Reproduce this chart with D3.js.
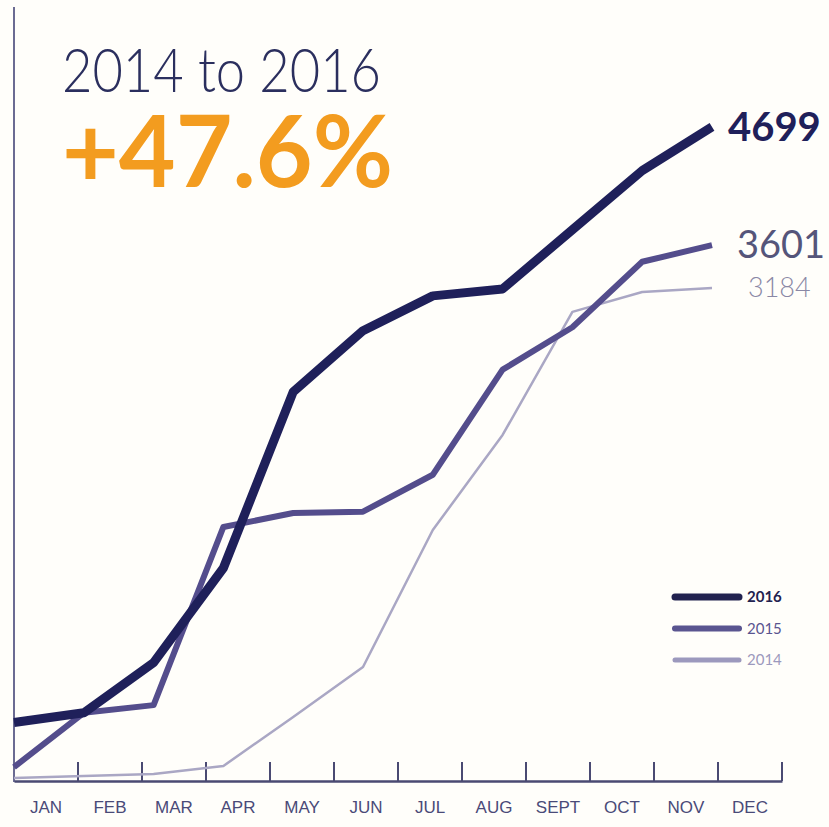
<!DOCTYPE html>
<html>
<head>
<meta charset="utf-8">
<script src="https://cdn.jsdelivr.net/npm/d3@7"></script>
<style>
  body { margin: 0; background: #fffefa; }
  svg { display: block; font-family: Lato, "Open Sans", sans-serif; }
</style>
</head>
<body>
<div id="chart"></div>
<script>
const months = ['JAN', 'FEB', 'MAR', 'APR', 'MAY', 'JUN', 'JUL', 'AUG', 'SEPT', 'OCT', 'NOV', 'DEC'];
const years = ['2016', '2015', '2014'];
// cumulative totals, Jan..Nov
const values2016 = [420, 490, 850, 1530, 2795, 3235, 3485, 3535, 3960, 4385, 4699];
const values2015 = [100, 490, 545, 1825, 1925, 1935, 2200, 2955, 3260, 3730, 3850];
const values2014 = [22, 36, 50, 108, 460, 819, 1803, 2486, 3370, 3513, 3542];
const endLabels = ['4699', '3601', '3184'];
const titleText = '2014 to 2016';
const changeText = '+47.6%';

const width = 829;
const height = 827;

const svg = d3.select('#chart')
  .append('svg')
  .attr('width', width)
  .attr('height', height);

svg.append('rect').attr('width', width).attr('height', height).attr('fill', '#fffefa');

const x = d3.scaleBand().domain(months).range([14, 782]);
const xLine = d3.scalePoint().domain(months.slice(0, 11)).range([14, 712]);
const y = d3.scaleLinear().domain([0, 5000]).range([781, 85]);

const styles = {
  '2016': { color: '#1f205a', width: 9, legendWidth: 7, labelColor: '#1f205a', legendColor: '#22224f' },
  '2015': { color: '#544d8c', width: 6, legendWidth: 6, labelColor: '#55557a', legendColor: '#5a5590' },
  '2014': { color: '#aaa7c4', width: 2.5, legendWidth: 5, labelColor: '#8a88a5', legendColor: '#9c99bd' }
};

const series = [
  { year: '2016', values: values2016, label: endLabels[0] },
  { year: '2015', values: values2015, label: endLabels[1] },
  { year: '2014', values: values2014, label: endLabels[2] }
];

// axes
svg.append('line')
  .attr('x1', 14).attr('x2', 14)
  .attr('y1', 7).attr('y2', 782)
  .attr('stroke', '#6b6b92').attr('stroke-width', 2);

const xAxis = svg.append('g')
  .attr('transform', 'translate(0,781)')
  .call(d3.axisBottom(x).tickSize(0).tickPadding(20));
xAxis.select('.domain').attr('stroke', '#4a4a72').attr('stroke-width', 2.5);
xAxis.selectAll('text')
  .attr('fill', '#4a4a78')
  .style('font-size', '17px');

svg.append('g').selectAll('line')
  .data(months)
  .enter()
  .append('line')
  .attr('x1', (d) => x(d) + x.bandwidth())
  .attr('x2', (d) => x(d) + x.bandwidth())
  .attr('y1', 762).attr('y2', 781)
  .attr('stroke', '#4a4a72').attr('stroke-width', 2);

// lines, drawn lightest first
const line = d3.line()
  .x((d, i) => xLine(months[i]))
  .y((d) => y(d));

svg.append('g').selectAll('path')
  .data(series.slice().reverse())
  .enter()
  .append('path')
  .attr('d', (d) => line(d.values))
  .attr('fill', 'none')
  .attr('stroke', (d) => styles[d.year].color)
  .attr('stroke-width', (d) => styles[d.year].width)
  .attr('stroke-linejoin', 'round')
  .attr('stroke-linecap', 'butt');

// end labels
const endFont = { '2016': ['40px', 700], '2015': ['38px', 400], '2014': ['27px', 300] };
const endDx = { '2016': 16, '2015': 25, '2014': 36 };
svg.append('g').selectAll('text')
  .data(series)
  .enter()
  .append('text')
  .attr('x', (d) => xLine(months[d.values.length - 1]) + endDx[d.year])
  .attr('y', (d) => y(d.values[d.values.length - 1]))
  .attr('dy', '0.35em')
  .attr('fill', (d) => styles[d.year].labelColor)
  .style('font-size', (d) => endFont[d.year][0])
  .style('font-weight', (d) => endFont[d.year][1])
  .text((d) => d.label);

// title
svg.append('text')
  .attr('x', 62).attr('y', 92)
  .attr('fill', '#2b2f5e')
  .attr('textLength', 319)
  .attr('lengthAdjust', 'spacingAndGlyphs')
  .style('font-size', '62px')
  .style('font-weight', 300)
  .text(titleText);

svg.append('text')
  .attr('x', 62).attr('y', 187)
  .attr('fill', '#f39c1f')
  .attr('textLength', 331)
  .attr('lengthAdjust', 'spacingAndGlyphs')
  .style('font-size', '100px')
  .style('font-weight', 700)
  .text(changeText);

// legend
const legend = svg.append('g').selectAll('g')
  .data(years)
  .enter()
  .append('g')
  .attr('transform', (d, i) => `translate(675,${597 + i * 31.5})`);

legend.append('line')
  .attr('x1', 0).attr('x2', 64)
  .attr('stroke', (d) => styles[d].legendColor)
  .attr('stroke-width', (d) => styles[d].legendWidth)
  .attr('stroke-linecap', 'round');

legend.append('text')
  .attr('x', 72)
  .attr('dy', '0.35em')
  .attr('fill', (d) => styles[d].legendColor)
  .style('font-size', '15px')
  .style('font-weight', (d, i) => (i === 0 ? 700 : 400))
  .text((d) => d);
</script>
</body>
</html>
